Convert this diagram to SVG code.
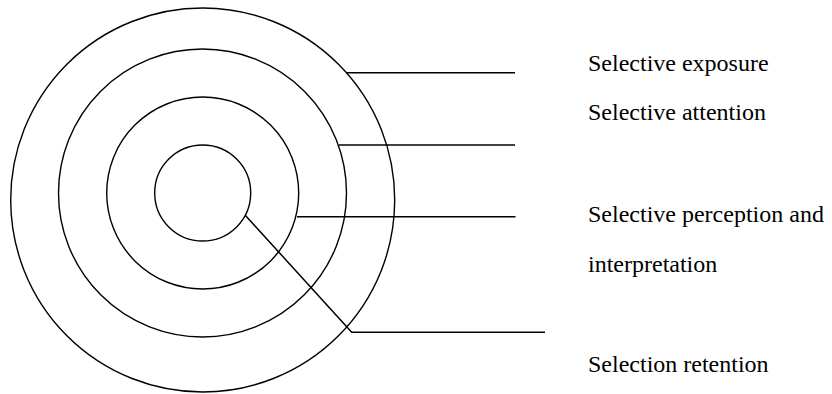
<svg xmlns="http://www.w3.org/2000/svg" width="832" height="394" viewBox="0 0 832 394">
<style>
.ring{fill:none;stroke:#000;stroke-width:1.4}
.conn{fill:none;stroke:#000;stroke-width:1.5}
.lbl{font-family:"Liberation Serif","Times New Roman",serif;font-size:24px;fill:#000}
</style>
<rect width="832" height="394" fill="#fff"/>
<g id="ring-exposure"><ellipse class="ring" cx="202.7" cy="200" rx="192" ry="192"/></g>
<g id="ring-attention"><circle class="ring" cx="202.5" cy="193" r="144"/></g>
<g id="ring-perception"><circle class="ring" cx="202.7" cy="193" r="96"/></g>
<g id="ring-retention"><circle class="ring" cx="202.7" cy="193" r="48"/></g>
<g id="connectors">
<polyline class="conn" points="346.5,72.7 515,72.7"/>
<polyline class="conn" points="339,145 515,145"/>
<polyline class="conn" points="297,216.7 515.5,216.7"/>
<polyline class="conn" points="245.5,215.5 351.7,332.3 545,332.3"/>
</g>
<g id="labels">
<text class="lbl" x="588" y="71">Selective exposure</text>
<text class="lbl" x="588" y="120">Selective attention</text>
<text class="lbl" x="588" y="222">Selective perception and</text>
<text class="lbl" x="588" y="272">interpretation</text>
<text class="lbl" x="588" y="372">Selection retention</text>
</g>
</svg>
